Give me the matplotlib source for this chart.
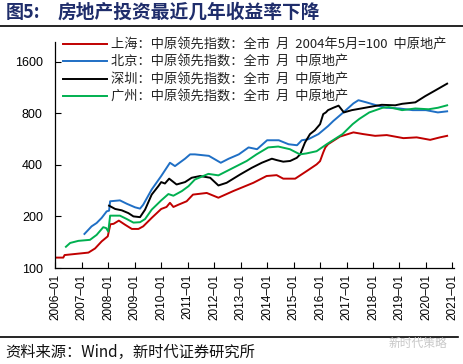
import matplotlib
matplotlib.use("Agg")
import matplotlib.pyplot as plt
from matplotlib.lines import Line2D
from matplotlib.ticker import FixedLocator, NullLocator

plt.rcParams['font.family'] = ['Noto Sans CJK SC', 'DejaVu Sans']

# ---- data (index, 2004-05 = 100), x as fractional years ----
sh_dates = [2006.0, 2006.3, 2006.35, 2007.25, 2007.5, 2007.75, 2007.98, 2008.08, 2008.2, 2008.4,
            2008.63, 2008.89, 2009.14, 2009.32, 2009.64, 2010.0, 2010.2, 2010.33, 2010.46, 2010.65,
            2010.96, 2011.2, 2011.72, 2012.16, 2012.72, 2013.48, 2013.98, 2014.36, 2014.61, 2015.06,
            2015.5, 2015.87, 2016.0, 2016.12, 2016.2, 2016.3, 2016.75, 2017.26, 2017.63, 2018.08,
            2018.52, 2019.15, 2019.65, 2020.16, 2020.53, 2020.8]
sh_vals = [115, 115, 119, 123, 130, 143, 153, 180, 181, 189,
           179, 169, 169, 175, 196, 221, 227, 240, 227, 234,
           245, 268, 274, 257, 281, 314, 344, 348, 332, 332,
           368, 402, 420, 472, 505, 527, 584, 618, 604, 590,
           596, 572, 578, 559, 578, 590]

bj_dates = [2007.1, 2007.37, 2007.56, 2007.75, 2007.94, 2008.03, 2008.07, 2008.44, 2008.7, 2009.01,
            2009.2, 2009.32, 2009.64, 2010.0, 2010.33, 2010.52, 2010.9, 2011.09, 2011.27, 2011.8,
            2012.25, 2012.55, 2012.93, 2013.3, 2013.62, 2014.0, 2014.44, 2014.81, 2015.13, 2015.31,
            2015.56, 2015.94, 2016.3, 2016.5, 2016.88, 2017.26, 2017.45, 2017.75, 2018.13, 2018.5,
            2019.0, 2019.5, 2020.0, 2020.45, 2020.8]
bj_vals = [158, 175, 183, 196, 214, 216, 245, 248, 237, 226,
           222, 234, 287, 344, 411, 393, 434, 460, 460, 451,
           411, 434, 460, 505, 493, 556, 556, 527, 520, 556,
           564, 604, 672, 720, 808, 912, 952, 925, 889, 860,
           852, 833, 833, 808, 820]

sz_dates = [2008.03, 2008.26, 2008.51, 2008.76, 2008.95, 2009.2, 2009.39, 2009.64, 2009.89, 2010.0,
            2010.14, 2010.3, 2010.58, 2010.9, 2011.15, 2011.47, 2011.85, 2012.16, 2012.47, 2012.98,
            2013.42, 2013.8, 2014.18, 2014.36, 2014.61, 2014.87, 2015.12, 2015.25, 2015.43, 2015.62,
            2015.8, 2016.0, 2016.12, 2016.22, 2016.3, 2016.5, 2016.7, 2016.9, 2017.2, 2017.7,
            2018.33, 2018.84, 2019.1, 2019.6, 2019.97, 2020.35, 2020.8]
sz_vals = [231, 221, 217, 209, 200, 198, 219, 268, 300, 317,
           311, 332, 307, 317, 336, 344, 336, 303, 314, 351,
           384, 411, 434, 426, 417, 421, 439, 460, 539, 604,
           635, 690, 790, 808, 833, 860, 885, 808, 833, 860,
           895, 889, 907, 925, 1005, 1085, 1189]

gz_dates = [2006.4, 2006.56, 2006.87, 2007.31, 2007.56, 2007.81, 2007.92, 2008.0, 2008.07, 2008.44,
            2008.7, 2008.95, 2009.2, 2009.39, 2009.64, 2010.0, 2010.27, 2010.46, 2010.78, 2011.03,
            2011.27, 2011.78, 2012.16, 2012.72, 2013.23, 2013.6, 2014.04, 2014.42, 2014.86, 2015.24,
            2015.49, 2015.87, 2016.25, 2016.85, 2017.23, 2017.48, 2017.86, 2018.36, 2018.6, 2019.1,
            2019.6, 2020.1, 2020.45, 2020.8]
gz_vals = [133, 140, 144, 146, 156, 173, 171, 163, 202, 202,
           193, 184, 185, 193, 219, 248, 270, 264, 281, 300,
           328, 354, 347, 384, 421, 460, 505, 511, 493, 460,
           466, 480, 527, 604, 690, 740, 808, 860, 868, 833,
           852, 843, 860, 889]

labels = ["上海：中原领先指数：全市  月  2004年5月=100  中原地产",
          "北京：中原领先指数：全市  月  中原地产",
          "深圳：中原领先指数：全市  月  中原地产",
          "广州：中原领先指数：全市  月  中原地产"]
colors = ["#C00000", "#1F6FC5", "#000000", "#00B050"]

years = list(range(2006, 2022))
yticks = [100, 200, 400, 800, 1600]

fig = plt.figure(figsize=(4.63, 3.64), dpi=100)
ax = fig.add_axes([0.1195, 0.2637, 0.8605, 0.6209])

series = [(sh_dates, sh_vals), (bj_dates, bj_vals), (sz_dates, sz_vals), (gz_dates, gz_vals)]
for (d, v), c, lab in zip(series, colors, labels):
    ax.plot(d, v, color=c, lw=1.4, label=lab)

ax.set_yscale("log")
ax.set_ylim(100, 2080)
ax.set_xlim(2006, 2021.05)
ax.yaxis.set_major_locator(FixedLocator(yticks))
ax.yaxis.set_minor_locator(NullLocator())
ax.set_yticklabels([str(t) for t in yticks], fontsize=9, family="Liberation Sans")
ax.set_xticks(years)
ax.set_xticklabels([f"{y}–01" for y in years], rotation=90, fontsize=8.5,
                   family="Liberation Sans")
ax.tick_params(axis="y", direction="in", length=4, pad=9, width=0.8)
ax.tick_params(axis="x", direction="in", length=4, pad=4, width=0.8)
for s in ("top", "right"):
    ax.spines[s].set_visible(False)
for s in ("left", "bottom"):
    ax.spines[s].set_linewidth(0.9)

leg = ax.legend(loc="upper left", bbox_to_anchor=(0.0, 1.05), frameon=False,
                fontsize=9.5, handlelength=3.3, handletextpad=0.35, labelspacing=0.32,
                borderaxespad=0.2)
for t in leg.get_texts():
    t.set_color("#222222")

# title, rules, source
fig.text(0.012, 0.967, "图5:", fontsize=13, fontweight="bold", color="#1F2D6B",
         va="center", ha="left")
fig.text(0.125, 0.967, "房地产投资最近几年收益率下降", fontsize=13.5, fontweight="bold",
         color="#1F2D6B", va="center", ha="left")
fig.add_artist(Line2D([0.0, 1.0], [0.929, 0.929], color="black", lw=1.2))
fig.add_artist(Line2D([0.0, 0.99], [0.074, 0.074], color="black", lw=1.2))
fig.text(0.012, 0.033, "资料来源：Wind，新时代证券研究所", fontsize=11, color="#111111",
         va="center", ha="left")
fig.text(0.84, 0.057, "新时代策略", fontsize=8.5, color="#C8C8C8", va="center", ha="left")

fig.savefig("out.png", dpi=100)
